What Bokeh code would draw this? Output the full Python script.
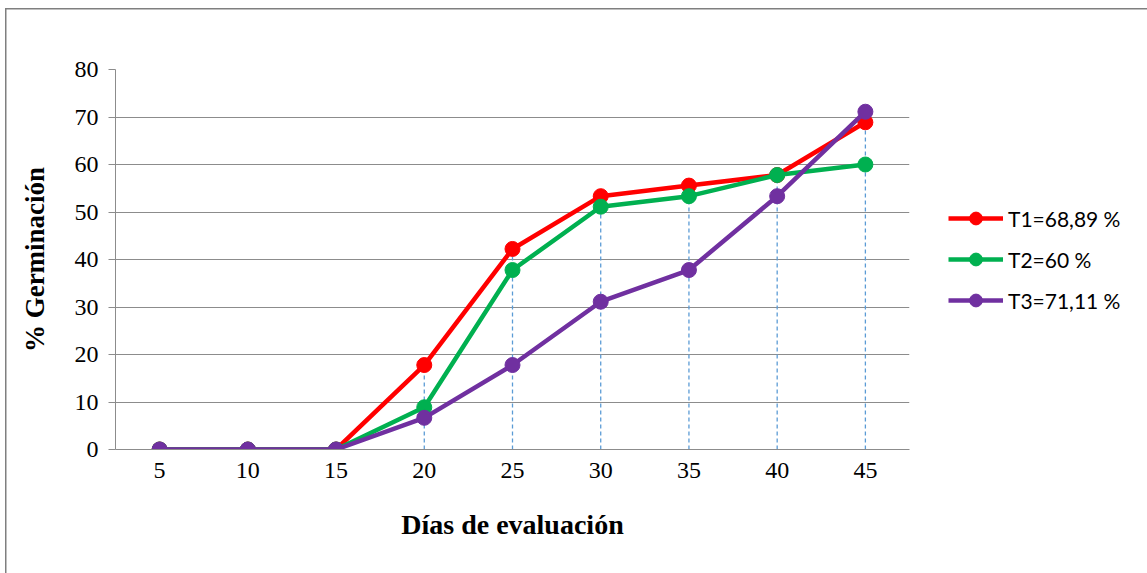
from bokeh.plotting import figure
from bokeh.models import (FactorRange, Range1d, Legend, LegendItem, FixedTicker, ColumnDataSource)
from bokeh.embed import file_html
from bokeh.resources import INLINE

# ---- data ----
days = ["5", "10", "15", "20", "25", "30", "35", "40", "45"]
t1 = [0, 0, 0, 17.78, 42.22, 53.33, 55.56, 57.78, 68.89]
t2 = [0, 0, 0, 8.89, 37.78, 51.11, 53.33, 57.78, 60.0]
t3 = [0, 0, 0, 6.67, 17.78, 31.11, 37.78, 53.33, 71.11]
labels = ["T1=68,89 %", "T2=60 %", "T3=71,11 %"]
colors = ["#FF0000", "#00B050", "#7030A0"]
y_ticks = [0, 10, 20, 30, 40, 50, 60, 70, 80]

SERIF = "Liberation Serif"

p = figure(x_range=FactorRange(*days, range_padding=0), y_range=Range1d(0, 80),
           frame_width=794, frame_height=380,
           min_border_left=115, min_border_right=238, min_border_top=69, min_border_bottom=124,
           output_backend="svg", toolbar_location=None, background_fill_color="white",
           border_fill_alpha=0)
p.outline_line_color = None
# outer chart border (top and left edges visible, the rest falls outside the picture)
p.styles = {
    "background": ("linear-gradient(#7F7F7F,#7F7F7F) 5px 8px / 1.5px 100% no-repeat, "
                   "linear-gradient(#7F7F7F,#7F7F7F) 5px 8px / 100% 1.5px no-repeat, white"),
}

# grid
p.xgrid.grid_line_color = None
p.ygrid.grid_line_color = "#8C8C8C"
p.ygrid.grid_line_width = 1
p.yaxis.ticker = FixedTicker(ticks=y_ticks)

# y axis
p.yaxis.axis_line_color = "#8C8C8C"
p.yaxis.major_tick_line_color = "#8C8C8C"
p.yaxis.major_tick_out = 7
p.yaxis.major_tick_in = 0
p.yaxis.minor_tick_line_color = None
p.yaxis.major_label_standoff = 10
p.yaxis.major_label_text_font = SERIF
p.yaxis.major_label_text_font_size = "24px"
p.yaxis.major_label_text_color = "black"
p.yaxis.axis_label = "% Germinación"
p.yaxis.axis_label_text_font = SERIF
p.yaxis.axis_label_text_font_style = "bold"
p.yaxis.axis_label_text_font_size = "27px"
p.yaxis.axis_label_text_color = "black"
p.yaxis.axis_label_standoff = 22

# x axis
p.xaxis.axis_line_color = "#8C8C8C"
p.xaxis.major_tick_line_color = None
p.xaxis.major_tick_out = 0
p.xaxis.major_tick_in = 0
p.xaxis.major_label_standoff = 13
p.xaxis.major_label_text_font = SERIF
p.xaxis.major_label_text_font_size = "24px"
p.xaxis.major_label_text_color = "black"
p.xaxis.axis_label = "Días de evaluación"
p.xaxis.axis_label_text_font = SERIF
p.xaxis.axis_label_text_font_style = "bold"
p.xaxis.axis_label_text_font_size = "28px"
p.xaxis.axis_label_text_color = "black"
p.xaxis.axis_label_standoff = 28

# drop lines
tops = [max(a, b, c) for a, b, c in zip(t1, t2, t3)]
p.segment(x0=days, y0=[0] * len(days), x1=days, y1=tops,
          line_color="#5B9BD5", line_width=1.3, line_dash="4 3")

items = []
for vals, col, lab in zip([t1, t2, t3], colors, labels):
    src = ColumnDataSource(dict(x=days, y=vals))
    r1 = p.line("x", "y", source=src, line_color=col, line_width=4.5)
    r2 = p.scatter("x", "y", source=src, size=15, fill_color=col, line_color=col)
    items.append(LegendItem(label=lab, renderers=[r1, r2]))

legend = Legend(items=items, location=(39, 133), orientation="vertical",
                glyph_width=55, glyph_height=32, label_height=32, spacing=9,
                label_standoff=5, padding=0, margin=0,
                border_line_color=None, background_fill_alpha=0,
                label_text_font="Lato", label_text_font_size="21px",
                label_text_color="black")
p.add_layout(legend, "right")

open("out.html", "w").write(file_html(p, INLINE))
